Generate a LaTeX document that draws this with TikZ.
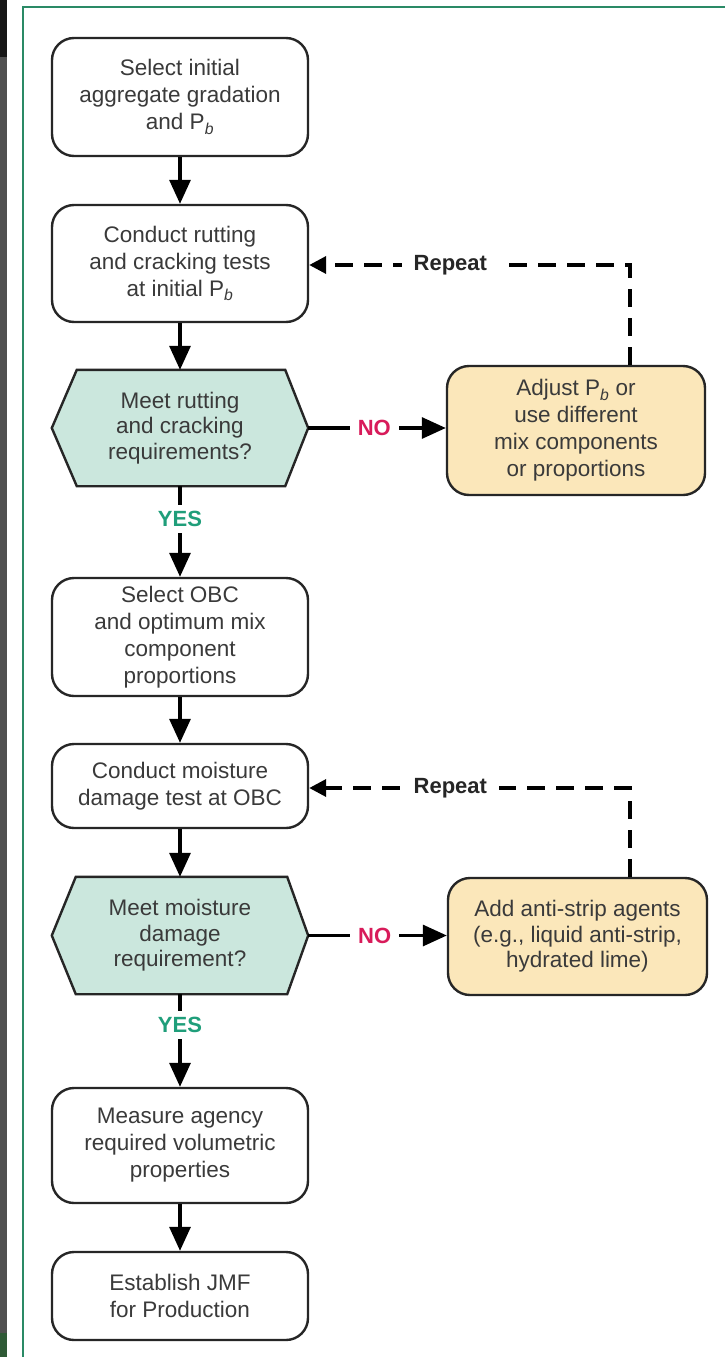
\documentclass[tikz,border=0pt]{standalone}
\usepackage{fontspec}
\setmainfont{Liberation Sans}
\usetikzlibrary{arrows.meta,calc,backgrounds}
\definecolor{frameg}{HTML}{2A8A66}
\definecolor{hexfill}{HTML}{CBE7DD}
\definecolor{boxfill}{HTML}{FBE7BA}
\definecolor{txt}{HTML}{3A3A3A}
\definecolor{nored}{HTML}{D81B5A}
\definecolor{yesgreen}{HTML}{1F9E7A}
\definecolor{stripdark}{HTML}{161616}
\definecolor{stripgray}{HTML}{505050}
\definecolor{stripgreen}{HTML}{2F5A36}
\newcommand\myBody{\fontsize{22.5}{27}\selectfont}
\newcommand\myHex{\fontsize{22.5}{25.5}\selectfont}
\newcommand\myLab{\fontsize{22}{26}\selectfont\bfseries}
\newcommand\Pb{P\textsubscript{\textit{b}}}
\tikzset{
  stepbox/.style={draw=black!85, line width=2.4pt, rounded corners=22pt,
    minimum width=256pt, align=center, text=txt, font=\myBody, inner sep=0pt},
  sidebox/.style={stepbox, fill=boxfill},
  hexnode/.style={minimum width=256pt, align=center, text=txt, font=\myHex, inner sep=0pt},
  hexshape/.style={draw=black!85, line width=2.4pt, fill=hexfill, line join=miter},
  flow/.style={line width=3.2pt, -{Triangle[length=24pt,width=21pt]}},
  rep/.style={line width=3.6pt, dash pattern=on 18pt off 11pt, line join=miter,
    -{Triangle[length=17pt,width=17pt]}},
  lab/.style={fill=white, font=\myLab, inner xsep=8pt, inner ysep=6pt},
  replab/.style={lab, inner xsep=12pt, text=black!85}
}
\begin{document}
\begin{tikzpicture}[x=1pt,y=-1pt]
\useasboundingbox (0,0) rectangle (725,1357);
\begin{pgfonlayer}{background}
\fill[white] (0,0) rectangle (725,1357);
\end{pgfonlayer}
% page edge strip and frame
\fill[stripdark] (0,0) rectangle (7,57);
\fill[stripgray] (0,57) rectangle (7,1333);
\fill[stripgreen] (0,1333) rectangle (7,1357);
\draw[frameg, line width=2pt] (23,1357) -- (23,7) -- (725,7);

% main column
\node[stepbox, minimum height=118pt] (b1) at (180,97) {Select initial\\aggregate gradation\\and \Pb};
\node[stepbox, minimum height=117pt] (b2) at (180,263.5) {Conduct rutting\\and cracking tests\\at initial \Pb};
\node[hexnode, minimum height=116pt] (h1) at (180,428) {Meet rutting\\and cracking\\requirements?};
\node[stepbox, minimum height=118pt] (b3) at (180,637) {Select OBC\\and optimum mix\\component\\proportions};
\node[stepbox, minimum height=84pt] (b4) at (180,786) {Conduct moisture\\damage test at OBC};
\node[hexnode, minimum height=117pt] (h2) at (180,935.5) {Meet moisture\\damage\\requirement?};
\node[stepbox, minimum height=115pt] (b5) at (180,1145.5) {Measure agency\\required volumetric\\properties};
\node[stepbox, minimum height=88pt] (b6) at (180,1296) {Establish JMF\\for Production};

% side boxes
\node[sidebox, minimum width=258pt, minimum height=129pt] (r1) at (576,430.5) {Adjust \Pb{} or\\use different\\mix components\\or proportions};
\node[sidebox, minimum width=259pt, minimum height=117pt, font=\fontsize{22.5}{25.5}\selectfont] (r2) at (577.5,936.5) {Add anti-strip agents\\(e.g., liquid anti-strip,\\hydrated lime)};

% hexagon outlines
\begin{pgfonlayer}{background}
\draw[hexshape] (h1.west) -- ([xshift=25pt]h1.north west) -- ([xshift=-23pt]h1.north east)
  -- (h1.east) -- ([xshift=-23pt]h1.south east) -- ([xshift=25pt]h1.south west) -- cycle;
\draw[hexshape] (h2.west) -- ([xshift=24pt]h2.north west) -- ([xshift=-21pt]h2.north east)
  -- (h2.east) -- ([xshift=-21pt]h2.south east) -- ([xshift=24pt]h2.south west) -- cycle;
\end{pgfonlayer}

% vertical flow
\draw[flow] (b1) -- (b2);
\draw[flow] (b2) -- (h1);
\draw[flow] (h1) -- node[lab, text=yesgreen, pos=0.36] {YES} (b3);
\draw[flow] (b3) -- (b4);
\draw[flow] (b4) -- (h2);
\draw[flow] (h2) -- node[lab, text=yesgreen, pos=0.33] {YES} (b5);
\draw[flow] (b5) -- (b6);

% NO branches
\draw[flow] (h1.east) -- node[lab, text=nored, pos=0.48] {NO} (h1.east -| r1.west);
\draw[flow] (h2.east) -- node[lab, text=nored, pos=0.48] {NO} (h2.east -| r2.west);

% repeat loops
\coordinate (c1) at (630,265);
\coordinate (c2) at (630,788);
\draw[rep] (r1.north -| c1) -- (c1) -- node[replab, pos=0.56] {Repeat} (c1 -| b2.east);
\draw[rep] (r2.north -| c2) -- (c2) -- node[replab, pos=0.56] {Repeat} (c2 -| b4.east);
\end{tikzpicture}
\end{document}
